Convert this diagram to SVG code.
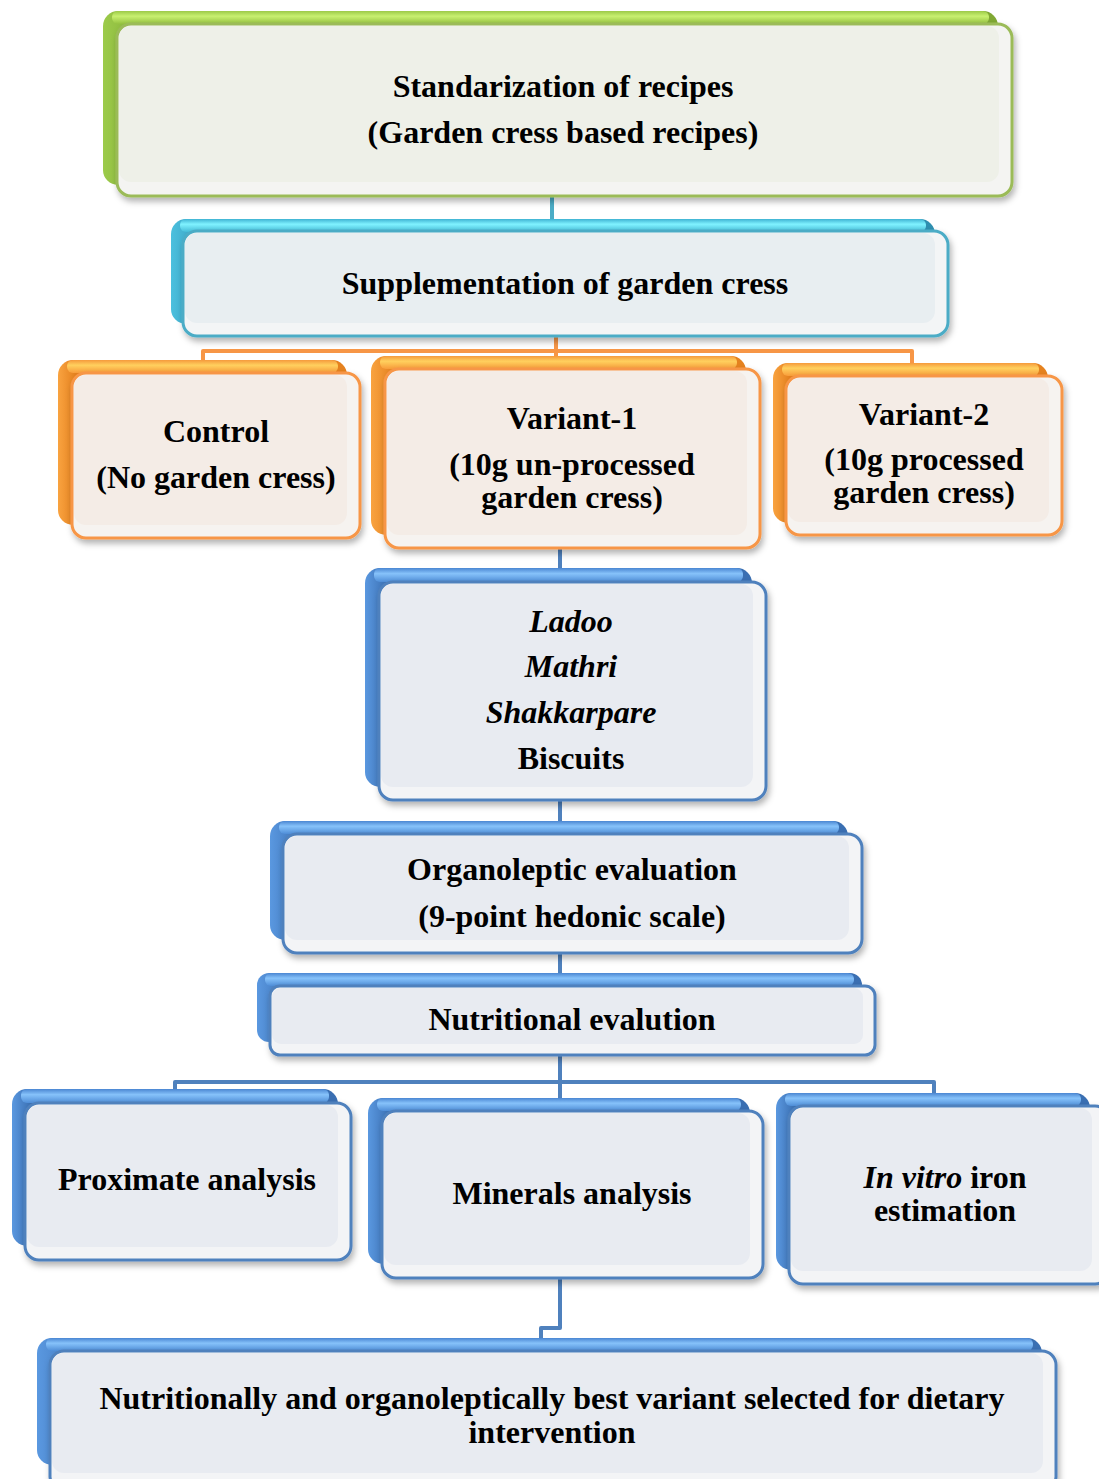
<svg xmlns="http://www.w3.org/2000/svg" width="1099" height="1479" viewBox="0 0 1099 1479">
<defs>
  <filter id="sh" x="-5%" y="-5%" width="115%" height="125%">
    <feDropShadow dx="2" dy="4" stdDeviation="3" flood-color="#000" flood-opacity="0.3"/>
  </filter>
  <linearGradient id="hlGreen" x1="0" y1="0" x2="0" y2="1"><stop offset="0" stop-color="#9cc948"/><stop offset="0.4" stop-color="#c8f070"/><stop offset="1" stop-color="#95c240"/></linearGradient>
  <linearGradient id="hlCyan" x1="0" y1="0" x2="0" y2="1"><stop offset="0" stop-color="#3fb3d3"/><stop offset="0.4" stop-color="#80f2ff"/><stop offset="1" stop-color="#45bcd8"/></linearGradient>
  <linearGradient id="hlOrange" x1="0" y1="0" x2="0" y2="1"><stop offset="0" stop-color="#f59a3c"/><stop offset="0.4" stop-color="#ffd05e"/><stop offset="1" stop-color="#f89c3a"/></linearGradient>
  <linearGradient id="hlBlue" x1="0" y1="0" x2="0" y2="1"><stop offset="0" stop-color="#4a86d2"/><stop offset="0.4" stop-color="#86c2fa"/><stop offset="1" stop-color="#4f8ed8"/></linearGradient>
  <linearGradient id="lfGreen" x1="0" y1="0" x2="1" y2="0"><stop offset="0" stop-color="#9ccb4a"/><stop offset="0.06" stop-color="#80a834"/><stop offset="1" stop-color="#80a834"/></linearGradient>
  <linearGradient id="lfCyan" x1="0" y1="0" x2="1" y2="0"><stop offset="0" stop-color="#4cc0de"/><stop offset="0.06" stop-color="#2e8fb0"/><stop offset="1" stop-color="#2e8fb0"/></linearGradient>
  <linearGradient id="lfOrange" x1="0" y1="0" x2="1" y2="0"><stop offset="0" stop-color="#f9a340"/><stop offset="0.06" stop-color="#e5821f"/><stop offset="1" stop-color="#e5821f"/></linearGradient>
  <linearGradient id="lfBlue" x1="0" y1="0" x2="1" y2="0"><stop offset="0" stop-color="#5a98e0"/><stop offset="0.06" stop-color="#3a6fb2"/><stop offset="1" stop-color="#3a6fb2"/></linearGradient>
</defs>
<style>
  .t { font-family: "Liberation Serif", "Times New Roman", serif; font-weight: bold; font-size: 32px; fill: #000; text-anchor: middle; }
  .i { font-style: italic; }
  .front { stroke-width: 3; filter: url(#sh); }
  .g .back { fill: url(#lfGreen); } .g .hl { fill: url(#hlGreen); } .g .front { fill: #f4f4f2; stroke: #9bbb59; } .g .tint { fill: #eef0e8; }
  .c .back { fill: url(#lfCyan); } .c .hl { fill: url(#hlCyan); } .c .front { fill: #f3f5f6; stroke: #4bacc6; } .c .tint { fill: #e8eef1; }
  .o .back { fill: url(#lfOrange); } .o .hl { fill: url(#hlOrange); } .o .front { fill: #f6f3f0; stroke: #f79646; } .o .tint { fill: #f4ece6; }
  .b .back { fill: url(#lfBlue); } .b .hl { fill: url(#hlBlue); } .b .front { fill: #f3f4f6; stroke: #4f81bd; } .b .tint { fill: #e8ebf1; }
  .cn { fill: none; stroke-width: 4; stroke-linejoin: round; }
  .cn-c { stroke: #4bacc6; } .cn-o { stroke: #f79646; } .cn-b { stroke: #4f81bd; }
</style>

<g id="connectors">
  <path class="cn cn-c" d="M552 196 V219"/>
  <path class="cn cn-o" d="M556 336 V357"/>
  <path class="cn cn-o" d="M203 362 V351 H912 V364"/>
  <path class="cn cn-b" d="M560 548 V568"/>
  <path class="cn cn-b" d="M560 800 V821"/>
  <path class="cn cn-b" d="M560 953 V973"/>
  <path class="cn cn-b" d="M560 1055 V1098"/>
  <path class="cn cn-b" d="M175 1090 V1082 H934 V1094"/>
  <path class="cn cn-b" d="M560 1278 V1328 H541 V1339"/>
</g>

<g id="n-standarization" class="g">
  <rect class="back" x="103" y="11" width="895" height="174" rx="15"/>
  <rect class="hl" x="112" y="11" width="877" height="13" rx="6"/>
  <rect class="front" x="117" y="24" width="895" height="172" rx="14"/>
  <rect class="tint" x="119" y="26" width="880" height="156" rx="12"/>
  <text class="t" x="563" y="97">Standarization of recipes</text>
  <text class="t" x="563" y="143">(Garden cress based recipes)</text>
</g>

<g id="n-supplementation" class="c">
  <rect class="back" x="171" y="219" width="764" height="105" rx="15"/>
  <rect class="hl" x="180" y="219" width="746" height="13" rx="6"/>
  <rect class="front" x="183" y="231" width="765" height="105" rx="14"/>
  <rect class="tint" x="185" y="233" width="750" height="90" rx="12"/>
  <text class="t" x="565" y="294">Supplementation of garden cress</text>
</g>

<g id="n-control" class="o">
  <rect class="back" x="58" y="360" width="289" height="165" rx="15"/>
  <rect class="hl" x="67" y="360" width="271" height="13" rx="6"/>
  <rect class="front" x="72" y="373" width="288" height="165" rx="14"/>
  <rect class="tint" x="74" y="375" width="273" height="150" rx="12"/>
  <text class="t" x="216" y="442">Control</text>
  <text class="t" x="216" y="488">(No garden cress)</text>
</g>

<g id="n-variant1" class="o">
  <rect class="back" x="371" y="356" width="375" height="179" rx="15"/>
  <rect class="hl" x="380" y="356" width="357" height="13" rx="6"/>
  <rect class="front" x="385" y="369" width="375" height="179" rx="14"/>
  <rect class="tint" x="387" y="371" width="360" height="164" rx="12"/>
  <text class="t" x="572" y="429">Variant-1</text>
  <text class="t" x="572" y="475">(10g un-processed</text>
  <text class="t" x="572" y="508">garden cress)</text>
</g>

<g id="n-variant2" class="o">
  <rect class="back" x="773" y="363" width="275" height="160" rx="15"/>
  <rect class="hl" x="782" y="363" width="257" height="13" rx="6"/>
  <rect class="front" x="786" y="376" width="276" height="159" rx="14"/>
  <rect class="tint" x="788" y="378" width="261" height="144" rx="12"/>
  <text class="t" x="924" y="425">Variant-2</text>
  <text class="t" x="924" y="470">(10g processed</text>
  <text class="t" x="924" y="503">garden cress)</text>
</g>

<g id="n-recipes" class="b">
  <rect class="back" x="365" y="568" width="387" height="219" rx="15"/>
  <rect class="hl" x="374" y="568" width="369" height="14" rx="6"/>
  <rect class="front" x="379" y="582" width="387" height="218" rx="14"/>
  <rect class="tint" x="381" y="584" width="372" height="203" rx="12"/>
  <text class="t i" x="571" y="632">Ladoo</text>
  <text class="t i" x="571" y="677">Mathri</text>
  <text class="t i" x="571" y="723">Shakkarpare</text>
  <text class="t" x="571" y="769">Biscuits</text>
</g>

<g id="n-organoleptic" class="b">
  <rect class="back" x="270" y="821" width="578" height="119" rx="15"/>
  <rect class="hl" x="279" y="821" width="560" height="13" rx="6"/>
  <rect class="front" x="283" y="834" width="579" height="119" rx="14"/>
  <rect class="tint" x="285" y="836" width="564" height="104" rx="12"/>
  <text class="t" x="572" y="880">Organoleptic evaluation</text>
  <text class="t" x="572" y="927">(9-point hedonic scale)</text>
</g>

<g id="n-nutritional" class="b">
  <rect class="back" x="257" y="973" width="605" height="69" rx="12"/>
  <rect class="hl" x="265" y="973" width="589" height="13" rx="6"/>
  <rect class="front" x="270" y="986" width="605" height="69" rx="10"/>
  <rect class="tint" x="272" y="988" width="591" height="56" rx="9"/>
  <text class="t" x="572" y="1030">Nutritional evalution</text>
</g>

<g id="n-proximate" class="b">
  <rect class="back" x="12" y="1089" width="326" height="157" rx="15"/>
  <rect class="hl" x="21" y="1089" width="308" height="14" rx="6"/>
  <rect class="front" x="25" y="1103" width="326" height="157" rx="14"/>
  <rect class="tint" x="27" y="1105" width="311" height="142" rx="12"/>
  <text class="t" x="187" y="1190">Proximate analysis</text>
</g>

<g id="n-minerals" class="b">
  <rect class="back" x="368" y="1098" width="382" height="166" rx="15"/>
  <rect class="hl" x="377" y="1098" width="364" height="13" rx="6"/>
  <rect class="front" x="382" y="1111" width="381" height="167" rx="14"/>
  <rect class="tint" x="384" y="1113" width="366" height="152" rx="12"/>
  <text class="t" x="572" y="1204">Minerals analysis</text>
</g>

<g id="n-invitro" class="b">
  <rect class="back" x="776" y="1093" width="314" height="177" rx="15"/>
  <rect class="hl" x="785" y="1093" width="296" height="13" rx="6"/>
  <rect class="front" x="789" y="1106" width="320" height="178" rx="14"/>
  <rect class="tint" x="791" y="1108" width="301" height="163" rx="12"/>
  <text class="t" x="945" y="1188"><tspan class="i">In vitro</tspan> iron</text>
  <text class="t" x="945" y="1221">estimation</text>
</g>

<g id="n-final" class="b">
  <rect class="back" x="37" y="1338" width="1005" height="127" rx="15"/>
  <rect class="hl" x="46" y="1338" width="987" height="13" rx="6"/>
  <rect class="front" x="50" y="1351" width="1006" height="140" rx="14"/>
  <rect class="tint" x="52" y="1353" width="991" height="120" rx="12"/>
  <text class="t" x="552" y="1409">Nutritionally and organoleptically best variant selected for dietary</text>
  <text class="t" x="552" y="1443">intervention</text>
</g>
</svg>
